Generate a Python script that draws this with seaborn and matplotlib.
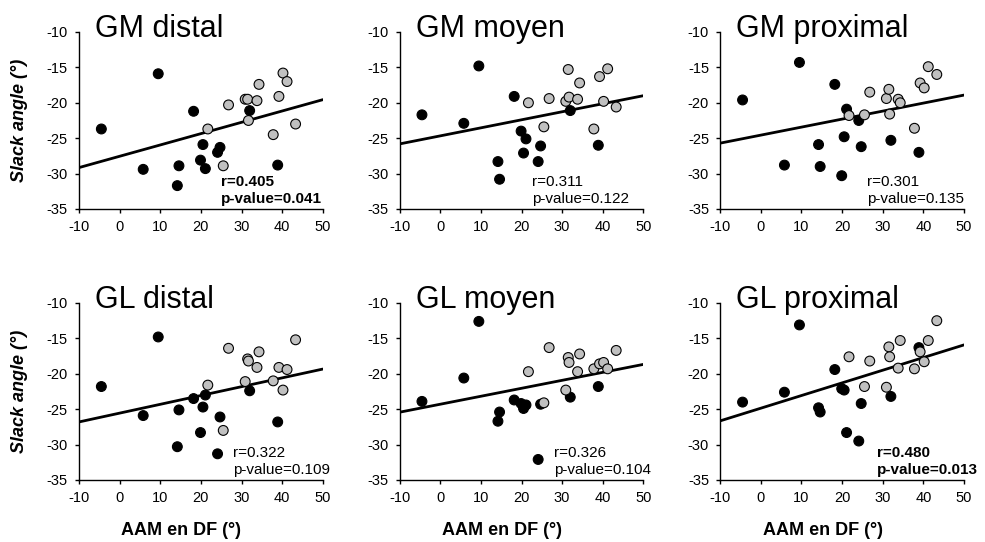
import numpy as np
import pandas as pd
import seaborn as sns
import matplotlib.pyplot as plt

# AAM en DF (deg), same subjects in every panel: black group / grey group
aam_black = [-4.5, 5.8, 9.5, 14.2, 14.6, 18.2, 19.9, 20.5, 21.1, 24.1, 24.7, 32.0, 38.9]
aam_grey = [21.7, 25.5, 26.8, 30.9, 31.5, 31.7, 33.8, 34.3, 37.8, 39.2, 40.2, 41.2, 43.3]

# slack angle (deg) per muscle region
gm_distal_black = [-23.7, -29.4, -15.9, -31.7, -28.9, -21.2, -28.1, -25.9, -29.3, -27.0, -26.3, -21.1, -28.8]
gm_distal_grey = [-23.7, -28.9, -20.3, -19.5, -19.5, -22.5, -19.7, -17.4, -24.5, -19.1, -15.8, -17.0, -23.0]
gm_moyen_black = [-21.7, -22.9, -14.8, -28.3, -30.8, -19.1, -24.0, -27.1, -25.1, -28.3, -26.1, -21.1, -26.0]
gm_moyen_grey = [-20.0, -23.4, -19.4, -19.8, -15.3, -19.2, -19.5, -17.2, -23.7, -16.3, -19.8, -15.2, -20.6]
gm_prox_black = [-19.6, -28.8, -14.3, -25.9, -29.0, -17.4, -30.3, -24.8, -20.9, -22.5, -26.2, -25.3, -27.0]
gm_prox_grey = [-21.8, -21.7, -18.5, -19.4, -18.1, -21.6, -19.5, -20.0, -23.6, -17.2, -17.9, -14.9, -16.0]
gl_distal_black = [-21.8, -25.9, -14.8, -30.3, -25.1, -23.5, -28.3, -24.7, -23.0, -31.3, -26.1, -22.4, -26.8]
gl_distal_grey = [-21.6, -28.0, -16.4, -21.1, -17.9, -18.2, -19.1, -16.9, -21.0, -19.1, -22.3, -19.4, -15.2]
gl_moyen_black = [-23.9, -20.6, -12.6, -26.7, -25.4, -23.7, -24.2, -24.9, -24.4, -32.1, -24.3, -23.3, -21.8]
gl_moyen_grey = [-19.7, -24.1, -16.3, -22.3, -17.7, -18.4, -19.7, -17.2, -19.3, -18.6, -18.4, -19.3, -16.7]
gl_prox_black = [-24.0, -22.6, -13.1, -24.8, -25.4, -19.4, -22.1, -22.3, -28.3, -29.5, -24.2, -23.2, -16.3]
gl_prox_grey = [-17.6, -21.8, -18.2, -21.9, -16.2, -17.6, -19.2, -15.3, -19.3, -16.9, -18.3, -15.3, -12.5]

titles = ['GM distal', 'GM moyen', 'GM proximal', 'GL distal', 'GL moyen', 'GL proximal']
black_sets = [gm_distal_black, gm_moyen_black, gm_prox_black, gl_distal_black, gl_moyen_black, gl_prox_black]
grey_sets = [gm_distal_grey, gm_moyen_grey, gm_prox_grey, gl_distal_grey, gl_moyen_grey, gl_prox_grey]
r_labels = ['r=0.405', 'r=0.311', 'r=0.301', 'r=0.322', 'r=0.326', 'r=0.480']
p_labels = ['p-value=0.041', 'p-value=0.122', 'p-value=0.135', 'p-value=0.109', 'p-value=0.104', 'p-value=0.013']
significant = [True, False, False, False, False, True]

rows = []
for t, yb, yg in zip(titles, black_sets, grey_sets):
    for xv, yv in zip(aam_black, yb):
        rows.append((t, 'black', xv, yv))
    for xv, yv in zip(aam_grey, yg):
        rows.append((t, 'grey', xv, yv))
df = pd.DataFrame(rows, columns=['panel', 'group', 'aam', 'slack'])

sns.set_style('ticks')
plt.rcParams['font.family'] = ['Liberation Sans', 'DejaVu Sans']
plt.rcParams['axes.linewidth'] = 1.0
plt.rcParams['axes.unicode_minus'] = False
plt.rcParams['text.color'] = 'black'
plt.rcParams['axes.labelcolor'] = 'black'
plt.rcParams['axes.edgecolor'] = 'black'

fig, axes = plt.subplots(2, 3, figsize=(9.85, 5.42), dpi=100)
fig.subplots_adjust(left=0.0802, right=0.9787, top=0.941, bottom=0.1144, wspace=0.315, hspace=0.531)

text_x = [25.0, 22.7, 26.1, 27.8, 28.1, 28.6]

for i, (ax, t) in enumerate(zip(axes.flat, titles)):
    d = df[df['panel'] == t]
    ax.set_xlim(-10, 50)
    ax.set_ylim(-35, -10)
    sns.regplot(data=d, x='aam', y='slack', ax=ax, scatter=False, ci=None, truncate=False,
                line_kws=dict(color='black', lw=2))
    sns.scatterplot(data=d, x='aam', y='slack', hue='group', palette={'black': 'black', 'grey': '#c0c0c0'},
                    edgecolor='black', linewidth=0.8, s=50, legend=False, ax=ax, zorder=3)
    ax.set_xlim(-10, 50)
    ax.set_ylim(-35, -10)
    ax.set_xticks(range(-10, 51, 10))
    ax.set_yticks(range(-35, -9, 5))
    ax.tick_params(labelsize=10.5, length=3, width=1, pad=5, colors='black')
    sns.despine(ax=ax)
    ax.text(0.066, 0.97, t, transform=ax.transAxes, fontsize=22, va='baseline', ha='left')
    w = 'bold' if significant[i] else 'normal'
    ax.text(text_x[i], -31.7, r_labels[i], fontsize=11, fontweight=w, va='baseline')
    ax.text(text_x[i], -34.2, p_labels[i], fontsize=11, fontweight=w, va='baseline', clip_on=False)
    ax.set_xlabel('')
    ax.set_ylabel('')
    if i % 3 == 0:
        ax.set_ylabel('Slack angle (°)', fontsize=13, fontweight='bold', style='italic')
        ax.yaxis.set_label_coords(-0.21, 0.5)
    if i >= 3:
        ax.set_xlabel('AAM en DF (°)', fontsize=13, fontweight='bold')
        ax.xaxis.set_label_coords(0.42, -0.235)

plt.savefig('out.png', dpi=100)
